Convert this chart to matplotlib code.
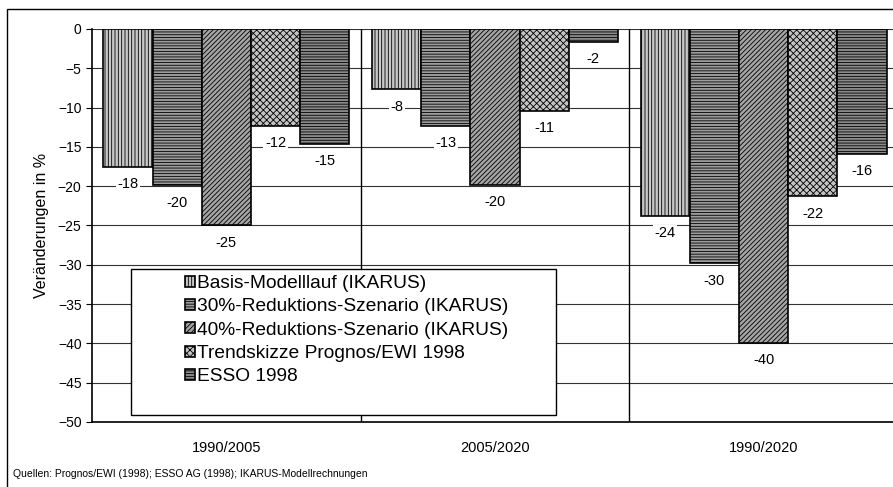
import numpy as np
import matplotlib.pyplot as plt
from matplotlib.patches import Rectangle

plt.rcParams.update({
    'font.family': ['Liberation Sans', 'DejaVu Sans'],
    'hatch.linewidth': 0.6,
})

categories = ['1990/2005', '2005/2020', '1990/2020']
series_names = ['Basis-Modelllauf (IKARUS)',
                '30%-Reduktions-Szenario (IKARUS)',
                '40%-Reduktions-Szenario (IKARUS)',
                'Trendskizze Prognos/EWI 1998',
                'ESSO 1998']
# bar heights
basis = [-17.5, -7.7, -23.8]
red30 = [-19.9, -12.3, -29.8]
red40 = [-25.0, -19.8, -39.9]
trend = [-12.3, -10.4, -21.3]
esso = [-14.6, -1.6, -15.9]
# printed labels
lab_basis = ['-18', '-8', '-24']
lab_red30 = ['-20', '-13', '-30']
lab_red40 = ['-25', '-20', '-40']
lab_trend = ['-12', '-11', '-22']
lab_esso = ['-15', '-2', '-16']

values = [basis, red30, red40, trend, esso]
labels = [lab_basis, lab_red30, lab_red40, lab_trend, lab_esso]
faces = ['#c8c8c8', '#9c9c9c', '#a4a4a4', '#c4c4c4', '#8a8a8a']
hatches = ['|||||', '------', '///////', 'xxxxx', '------']

fig = plt.figure(figsize=(8.93, 4.87), dpi=100)
ax = fig.add_axes([0.103, 0.1335, 0.9026, 0.807])

x = np.arange(len(categories))
w = 0.183
for i, (vals, labs) in enumerate(zip(values, labels)):
    pos = x + (i - 2) * w
    ax.bar(pos, vals, width=w, color=faces[i], edgecolor='black',
           linewidth=1.2, hatch=hatches[i], label=series_names[i], zorder=3)
    for p, v, t in zip(pos, vals, labs):
        ax.text(p, v - 2.2, t, ha='center', va='center', fontsize=10.5, zorder=4,
                bbox=dict(facecolor='white', edgecolor='none', pad=1.0))

ax.set_xlim(-0.5, 2.5)
ax.set_ylim(-50, 0)
ax.set_yticks(np.arange(-50, 1, 5))
ax.set_xticks(x, categories)
ax.tick_params(axis='y', direction='out', length=4, labelsize=10)
ax.tick_params(axis='x', length=0, labelsize=10.5, pad=14)
ax.yaxis.grid(True, color='#333333', linewidth=0.8, zorder=0)
ax.set_axisbelow(True)
for xs in [0.5, 1.5]:
    ax.axvline(xs, color='black', linewidth=1.0, zorder=1)
ax.spines['top'].set_visible(False)
ax.spines['right'].set_visible(False)
ax.spines['left'].set_linewidth(1.2)
ax.spines['bottom'].set_linewidth(1.2)
ax.set_ylabel('Veränderungen in %', fontsize=11.5, labelpad=6)

# legend frame drawn separately (wider than its contents, as in the original)
ax.add_patch(Rectangle((0.0484, 0.0178), 0.5273, 0.3712, transform=ax.transAxes,
                       facecolor='white', edgecolor='black', linewidth=1.0, zorder=5))
leg = ax.legend(loc='upper left', bbox_to_anchor=(0.1154, 0.374), fontsize=13.8,
                frameon=False, handlelength=0.5, handleheight=0.5,
                handletextpad=0.15, labelspacing=0.33, borderpad=0, borderaxespad=0)
leg.set_zorder(6)

fig.patches.append(Rectangle((7 / 893, -0.05), 1.1, 1 - 9 / 487 + 0.05,
                             transform=fig.transFigure, fill=False,
                             edgecolor='black', linewidth=1.0))
fig.text(13 / 893, 1 - 474 / 487, 'Quellen: Prognos/EWI (1998); ESSO AG (1998); IKARUS-Modellrechnungen',
         fontsize=7.5, ha='left', va='center')

fig.savefig('out.png', dpi=100)
